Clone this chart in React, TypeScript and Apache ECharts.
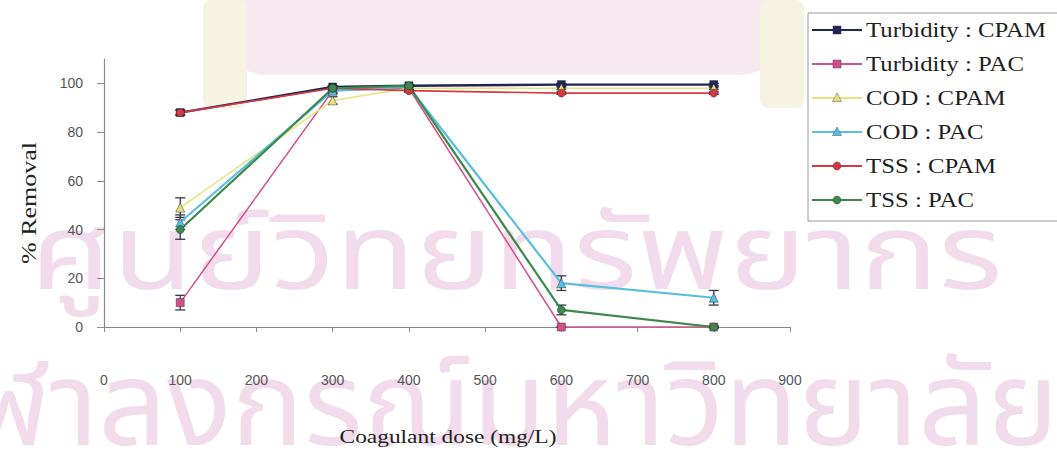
import React, { useEffect, useRef } from "react";
import * as echarts from "echarts";

// Coagulant dose (mg/L)
const doses = [100, 300, 400, 600, 800];

// % removal per parameter and coagulant
const turbidityCPAM = [88, 98.5, 99, 99.5, 99.5];
const turbidityPAC = [10, 97, 98, 0, 0];
const codCPAM = [49, 93, 98, 98, 98];
const codPAC = [43, 97, 98.5, 18, 12];
const tssCPAM = [88, 98, 97, 96, 96];
const tssPAC = [40, 98, 99, 7, 0];

// Standard deviation (error bars)
const turbidityCPAMErr = [1, 0.5, 0.5, 0.5, 0.5];
const turbidityPACErr = [3, 1, 0.5, 0, 0];
const codCPAMErr = [4, 1.5, 0.5, 0.5, 0.5];
const codPACErr = [3, 1, 0.5, 3, 3];
const tssCPAMErr = [1, 0.5, 0.5, 0.5, 0.5];
const tssPACErr = [4, 1, 0.5, 2, 0.5];

const xTicks = [0, 100, 200, 300, 400, 500, 600, 700, 800, 900];
const yTicks = [0, 20, 40, 60, 80, 100];

const seriesDefs = [
  { name: "Turbidity : CPAM", values: turbidityCPAM, err: turbidityCPAMErr, color: "#1f2557", symbol: "rect", width: 2.4 },
  { name: "Turbidity : PAC", values: turbidityPAC, err: turbidityPACErr, color: "#d64f8c", symbol: "rect", width: 1.5 },
  { name: "COD : CPAM", values: codCPAM, err: codCPAMErr, color: "#e9e27c", symbol: "triangle", width: 1.5 },
  { name: "COD : PAC", values: codPAC, err: codPACErr, color: "#58bfe0", symbol: "triangle", width: 2.2 },
  { name: "TSS : CPAM", values: tssCPAM, err: tssCPAMErr, color: "#d8393f", symbol: "circle", width: 1.7 },
  { name: "TSS : PAC", values: tssPAC, err: tssPACErr, color: "#3b8a4c", symbol: "circle", width: 2.2 },
];

const SERIF = "'Liberation Serif', 'Times New Roman', serif";
const SANS = "'Liberation Sans', Arial, sans-serif";
const THAI = "'Noto Sans Thai', 'Loma', 'Garuda', 'Norasi', 'Noto Sans', sans-serif";

const WATERMARK_TOP = "ศูนย์วิทยทรัพยากร";
const WATERMARK_BOTTOM = "จุฬาลงกรณ์มหาวิทยาลัย";

// Legend drawn as graphic elements so its labels can be widened like the rest of the type
function legendGraphics() {
  const boxX = 808;
  const boxY = 13;
  const firstY = 30;
  const step = 34;
  const items: any[] = [
    {
      type: "rect",
      shape: { x: boxX, y: boxY, width: 300, height: 208 },
      style: { fill: "#ffffff", stroke: "#9a9a9a", lineWidth: 1 },
      z: 20,
    },
  ];
  seriesDefs.forEach((s, i) => {
    const y = firstY + i * step;
    const cx = 837;
    items.push({
      type: "line",
      shape: { x1: 812, y1: y, x2: 862, y2: y },
      style: { stroke: s.color, lineWidth: 2 },
      z: 21,
    });
    let marker: any;
    if (s.symbol === "rect") {
      marker = { type: "rect", shape: { x: cx - 4, y: y - 4, width: 8, height: 8 } };
    } else if (s.symbol === "triangle") {
      marker = { type: "polygon", shape: { points: [[cx, y - 5], [cx + 4.5, y + 3.5], [cx - 4.5, y + 3.5]] } };
    } else {
      marker = { type: "circle", shape: { cx, cy: y, r: 4 } };
    }
    items.push({ ...marker, style: { fill: s.color, stroke: "rgba(40,40,60,0.5)", lineWidth: 0.8 }, z: 22 });
    items.push({
      type: "text",
      x: 866,
      y,
      scaleX: 1.24,
      style: {
        text: s.name,
        font: `20px ${SERIF}`,
        fill: "#1e1e1e",
        align: "left",
        verticalAlign: "middle",
      },
      z: 22,
    });
  });
  return items;
}

export default function App() {
  const ref = useRef<HTMLDivElement>(null);

  useEffect(() => {
    if (!ref.current) return;
    const chart = echarts.init(ref.current, undefined, { renderer: "svg" });

    const lineSeries = seriesDefs.map((s) => ({
      name: s.name,
      type: "line",
      data: doses.map((d, i) => [d, s.values[i]]),
      symbol: s.symbol,
      symbolSize: s.symbol === "triangle" ? 9 : 8,
      lineStyle: { color: s.color, width: s.width },
      itemStyle: { color: s.color, borderColor: "rgba(40,40,60,0.6)", borderWidth: 0.8 },
      z: 3,
    }));

    const errorSeries = seriesDefs.map((s) => ({
      name: s.name + " err",
      type: "custom",
      data: doses.map((d, i) => [d, s.values[i] - s.err[i], s.values[i] + s.err[i]]),
      renderItem: (_params: any, api: any) => {
        const x = api.value(0);
        const lo = api.coord([x, api.value(1)]);
        const hi = api.coord([x, api.value(2)]);
        const hw = 5;
        const style = { stroke: "#3a3a4a", lineWidth: 1.3 };
        return {
          type: "group",
          children: [
            { type: "line", shape: { x1: lo[0], y1: lo[1], x2: hi[0], y2: hi[1] }, style },
            { type: "line", shape: { x1: lo[0] - hw, y1: lo[1], x2: lo[0] + hw, y2: lo[1] }, style },
            { type: "line", shape: { x1: hi[0] - hw, y1: hi[1], x2: hi[0] + hw, y2: hi[1] }, style },
          ],
        };
      },
      z: 2,
      silent: true,
    }));

    chart.setOption({
      animation: false,
      backgroundColor: "#ffffff",
      graphic: [
        // crest backdrop
        { type: "rect", shape: { x: 215, y: -30, width: 575, height: 105, r: 55 }, style: { fill: "#f8e9f0" }, z: -10 },
        { type: "rect", shape: { x: 203, y: 0, width: 44, height: 108, r: 8 }, style: { fill: "#f7f3e3" }, z: -9 },
        { type: "rect", shape: { x: 760, y: 0, width: 44, height: 108, r: 8 }, style: { fill: "#f7f3e3" }, z: -9 },
        // watermark text
        {
          type: "text",
          x: 30,
          y: 204,
          scaleX: 1.25,
          style: { text: WATERMARK_TOP, font: `105px ${THAI}`, fill: "#f2dbec" },
          z: -5,
        },
        {
          type: "text",
          x: -95,
          y: 350,
          scaleX: 1.02,
          style: { text: WATERMARK_BOTTOM, font: `118px ${THAI}`, fill: "#f2dbec" },
          z: -5,
        },
        // axis titles
        {
          type: "text",
          x: 448,
          y: 437,
          scaleX: 1.3,
          style: {
            text: "Coagulant dose (mg/L)",
            font: `18px ${SERIF}`,
            fill: "#222",
            align: "center",
            verticalAlign: "middle",
          },
          z: 10,
        },
        {
          type: "text",
          x: 29,
          y: 203,
          rotation: Math.PI / 2,
          scaleX: 1.3,
          style: {
            text: "% Removal",
            font: `20px ${SERIF}`,
            fill: "#222",
            align: "center",
            verticalAlign: "middle",
          },
          z: 10,
        },
        ...legendGraphics(),
      ],
      grid: { left: 104, right: 267, top: 59, bottom: 125 },
      xAxis: {
        type: "value",
        min: 0,
        max: 900,
        interval: 100,
        axisLine: { show: true, lineStyle: { color: "#8a8a8a", width: 1.2 } },
        axisTick: { show: true, length: 5, lineStyle: { color: "#8a8a8a" } },
        axisLabel: {
          margin: 46,
          fontFamily: SANS,
          fontSize: 14,
          color: "#555",
          customValues: xTicks,
        },
        splitLine: { show: false },
      },
      yAxis: {
        type: "value",
        min: 0,
        max: 110,
        interval: 20,
        axisLine: { show: true, lineStyle: { color: "#8a8a8a", width: 1.2 } },
        axisTick: { show: true, length: 7, lineStyle: { color: "#8a8a8a" }, customValues: yTicks },
        axisLabel: {
          margin: 21,
          fontFamily: SANS,
          fontSize: 14,
          color: "#555",
          customValues: yTicks,
        },
        splitLine: { show: false },
      },
      series: [...errorSeries, ...lineSeries],
    });

    return () => chart.dispose();
  }, []);

  return (
    <div
      ref={ref}
      style={{ position: "absolute", left: 0, top: 0, width: 1057, height: 452 }}
    />
  );
}
